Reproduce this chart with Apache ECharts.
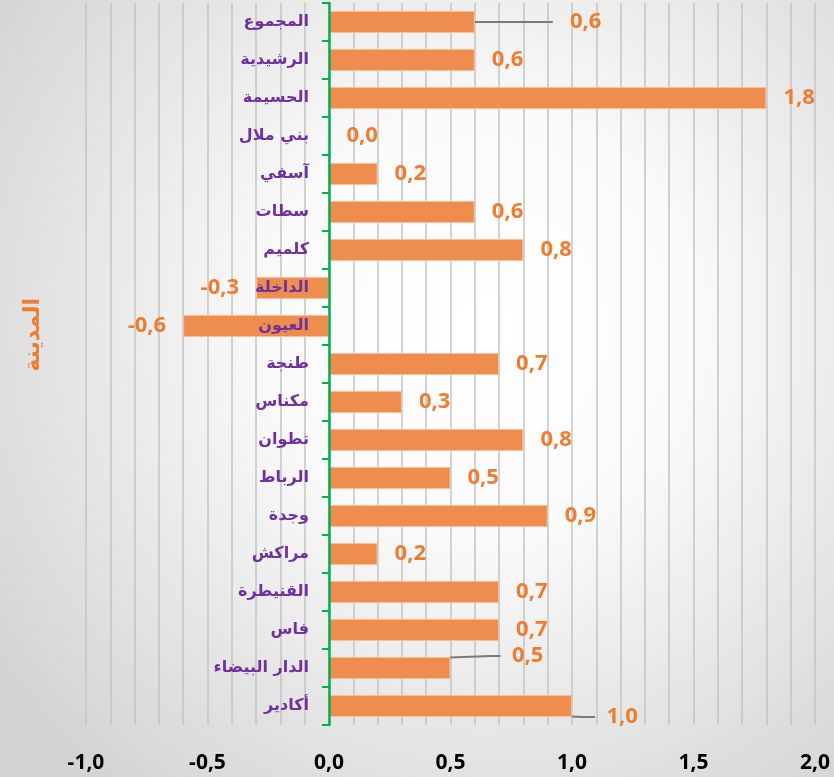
<!DOCTYPE html>
<html><head><meta charset="utf-8">
<script src="https://cdn.jsdelivr.net/npm/echarts@6/dist/echarts.min.js"></script>
<style>html,body{margin:0;padding:0;background:#fff;}#c{width:834px;height:777px;}</style>
</head><body><div id="c"></div>
<script>
// Categories (top to bottom)
const cities = ['المجموع','الرشيدية','الحسيمة','بني ملال','آسفي','سطات','كلميم','الداخلة','العيون','طنجة','مكناس','تطوان','الرباط','وجدة','مراكش','القنيطرة','فاس','الدار البيضاء','أكادير'];
// Values
const values = [0.6, 0.6, 1.8, 0.0, 0.2, 0.6, 0.8, -0.3, -0.6, 0.7, 0.3, 0.8, 0.5, 0.9, 0.2, 0.7, 0.7, 0.5, 1.0];
// Value axis ticks
const xMin = -1.0, xMax = 2.0, xStep = 0.5;
const axisTitle = 'المدينة';

const fmt = v => v.toFixed(1).replace('.', ',');
// Labels moved away from their bars (with leader lines): [dx, dy, leading spaces, length2]
const moved = { 'المجموع': [61, 0, 3, 0], 'الدار البيضاء': [33, -12, 2, 10], 'أكادير': [6, 11, 2, 12] };

const data = values.map((v, i) => {
  const d = { value: v };
  if (v < 0) d.label = { position: 'left' };
  const m = moved[cities[i]];
  if (m) d.labelLine = { show: true, length2: m[3] };
  return d;
});

const chart = echarts.init(document.getElementById('c'));
chart.setOption({
  backgroundColor: {
    type: 'radial', x: 0.58, y: 0.42, r: 0.78,
    colorStops: [
      { offset: 0, color: '#ffffff' },
      { offset: 0.35, color: '#fafafa' },
      { offset: 1, color: '#d2d2d2' }
    ]
  },
  animation: false,
  grid: { left: 86, right: 19, top: 3, bottom: 52, containLabel: false, outerBoundsMode: 'none' },
  graphic: [{
    type: 'text', left: 22, top: 298,
    rotation: Math.PI / 2,
    style: { text: axisTitle, fill: '#ED7D31', font: 'bold 22px "DejaVu Sans"' }
  }],
  xAxis: {
    type: 'value', min: xMin, max: xMax, interval: xStep,
    axisLine: { show: false }, axisTick: { show: false },
    axisLabel: { formatter: fmt, color: '#000', fontWeight: 'bold', fontSize: 21, fontFamily: 'Open Sans', margin: 28 },
    splitLine: { show: true, lineStyle: { color: '#c4c4c4', width: 1.5 } },
    minorTick: { show: false, splitNumber: 5 },
    minorSplitLine: { show: true, lineStyle: { color: '#c4c4c4', width: 1.5 } }
  },
  yAxis: {
    type: 'category', data: cities, inverse: true, z: 5,
    axisLine: { show: true, onZero: true, lineStyle: { color: '#00B050', width: 2.5 } },
    axisTick: { show: true, length: 7, lineStyle: { color: '#00B050', width: 2 } },
    axisLabel: { color: '#7030A0', fontWeight: 'bold', fontSize: 16, fontFamily: 'DejaVu Sans', margin: -223 },
    splitLine: { show: false }
  },
  series: [{
    type: 'bar', data: data, barWidth: '58%',
    itemStyle: { color: '#EE8D4D', borderColor: '#F6C09C', borderWidth: 1 },
    label: {
      show: true, position: 'right', distance: 17,
      formatter: p => {
        const m = moved[cities[p.dataIndex]];
        return (m ? ' '.repeat(m[2]) : '') + fmt(p.value);
      },
      color: '#ED7D31', fontWeight: 'bold', fontSize: 22, fontFamily: 'Open Sans'
    },
    labelLine: { show: false, lineStyle: { color: '#7a7a7a', width: 2 } },
    labelLayout: p => {
      const m = moved[cities[p.dataIndex]];
      return m ? { dx: m[0], dy: m[1] } : {};
    }
  }]
});
</script>
</body></html>
